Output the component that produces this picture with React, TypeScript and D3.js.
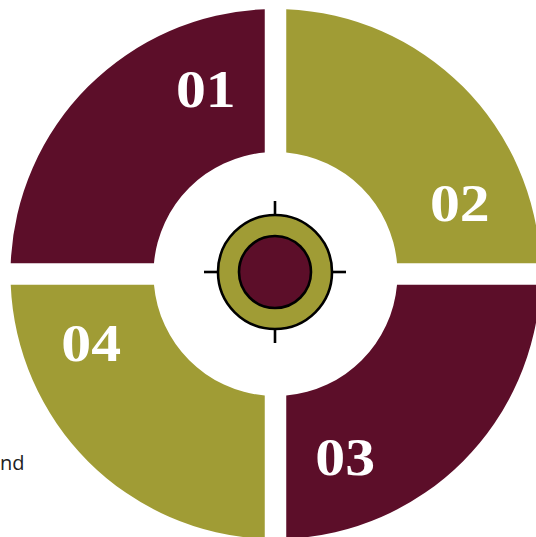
import * as d3 from 'd3'

const labels = ['01', '02', '03', '04']
const values = [1, 1, 1, 1]
const fills = ['#5c0e29', '#a09c35', '#5c0e29', '#a09c35']
const sideText = 'nd'

const MAROON = '#5c0e29'
const OLIVE = '#a09c35'

export default function App() {
  const width = 536
  const height = 537
  const cx = 275.5
  const cy = 274

  const outerRadius = 265
  const innerRadius = 122
  const gap = 21.5
  const padAngle = 2 * Math.asin(gap / 2 / outerRadius)

  const pie = d3.pie<number>()
    .sort(null)
    .startAngle(-Math.PI / 2)
    .endAngle(Math.PI * 1.5)
    .padAngle(padAngle)
  const arcs = pie(values)

  const arc = d3.arc<d3.PieArcDatum<number>>()
    .innerRadius(innerRadius)
    .outerRadius(outerRadius)
    .padRadius(outerRadius)

  const labelRadius = 197

  // target icon in the hole
  const ix = 275
  const iy = 272
  const ringR = 57
  const coreR = 36
  const tickEnd = 71

  return (
    <svg
      width={width}
      height={height}
      viewBox={`0 0 ${width} ${height}`}
      style={{position: 'absolute', left: 0, top: 0, background: '#fff'}}
    >
      <g transform={`translate(${cx}, ${cy})`}>
        {arcs.map((a, i) => (
          <path key={labels[i]} d={arc(a) ?? undefined} fill={fills[i]} />
        ))}
        {arcs.map((a, i) => {
          const angle = a.startAngle + (a.endAngle - a.startAngle) * 0.77
          const [x, y] = d3.pointRadial(angle, labelRadius)
          return (
            <text
              key={labels[i]}
              transform={`translate(${x}, ${y + 17}) scale(1.15, 1)`}
              textAnchor={'middle'}
              fontFamily={'Liberation Serif'}
              fontWeight={700}
              fontSize={52}
              fill={'#fff'}
            >
              {labels[i]}
            </text>
          )
        })}
      </g>
      <g transform={`translate(${ix}, ${iy})`} stroke={'#000'} strokeWidth={2.6}>
        {[0, 90, 180, 270].map(deg => {
          const [x0, y0] = d3.pointRadial(deg * Math.PI / 180, ringR)
          const [x1, y1] = d3.pointRadial(deg * Math.PI / 180, tickEnd)
          return <line key={deg} x1={x0} y1={y0} x2={x1} y2={y1} />
        })}
        <circle r={ringR} fill={OLIVE} />
        <circle r={coreR} fill={MAROON} />
      </g>
      <text
        x={0}
        y={470}
        fontFamily={'Open Sans'}
        fontSize={20}
        fill={'#222'}
      >
        {sideText}
      </text>
    </svg>
  )
}
